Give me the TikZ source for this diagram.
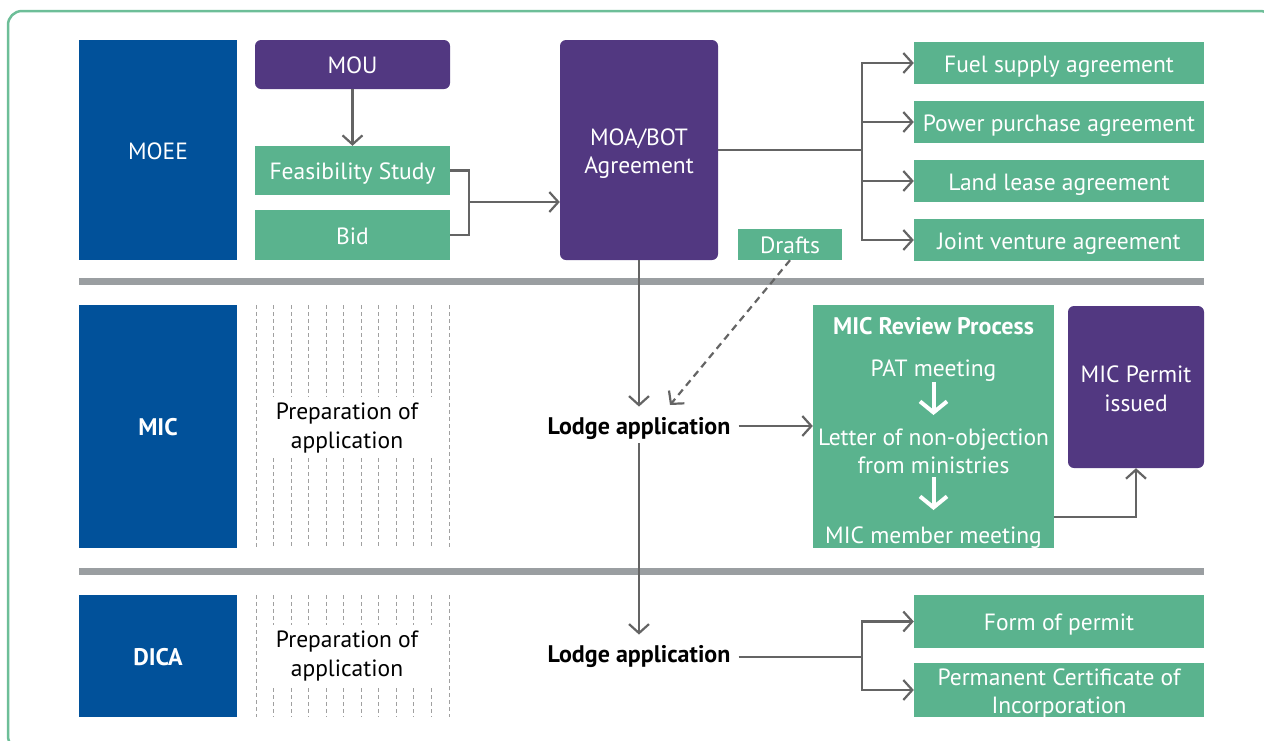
\documentclass[tikz,border=0pt]{standalone}
\usepackage{fontspec}
\setmainfont{PT Sans}
\usetikzlibrary{arrows.meta}
\definecolor{dblue}{HTML}{01519A}
\definecolor{mpurple}{HTML}{523881}
\definecolor{mgreen}{HTML}{5AB38E}
\definecolor{sepgray}{HTML}{9A9EA1}
\definecolor{agray}{HTML}{646464}
\definecolor{fgreen}{HTML}{6DBE98}
\definecolor{dgray}{HTML}{A0A0A0}
\begin{document}
\begin{tikzpicture}[x=1pt,y=-1pt,
  st/.style={execute at begin node={\rule[-6pt]{0pt}{30.5pt}}, execute at end node={\rule[-6pt]{0pt}{6pt}}},
  nost/.style={execute at begin node={}, execute at end node={}},
  txt/.style={font=\fontsize{23.5}{28.5}\selectfont, st},
  bftxt/.style={font=\fontsize{24}{28.5}\selectfont\bfseries, st},
  box/.style={draw=none, inner sep=0pt, text=white, align=center, txt},
  gbox/.style={box, fill=mgreen},
  pbox/.style={box, fill=mpurple, rounded corners=6pt},
  bbox/.style={box, fill=dblue},
  conn/.style={draw=agray, line width=2.2pt, -{Straight Barb[length=9pt,width=20pt]}},
  plain/.style={draw=agray, line width=2.2pt},
  dconn/.style={conn, dash pattern=on 7pt off 5pt},
  warrow/.style={draw=white, line width=4pt, -{Straight Barb[length=11pt,width=27pt]}},
  sep/.style={draw=sepgray, line width=7pt},
  vdash/.style={draw=dgray, line width=1pt, dash pattern=on 4pt off 3pt},
  btxt/.style={bftxt, inner xsep=8pt, inner ysep=3pt},
  wtxt/.style={text=white, txt, inner sep=0pt, align=center},
  mltxt/.style={txt, nost, inner sep=0pt, align=center}
]
\useasboundingbox (0,0) rectangle (1264,740);
\begin{scope}
\clip (0,0) rectangle (1264,740);
\draw[fgreen, line width=2.5pt, rounded corners=14pt] (8,11) rectangle (1274,750);
\end{scope}

% separators
\draw[sep] (79,281) -- (1204,281);
\draw[sep] (79,571) -- (1204,571);

% row labels
\node[bbox, minimum width=158pt, minimum height=220pt] (moee) at (158,150) {MOEE};
\node[bbox, minimum width=158pt, minimum height=243pt, bftxt] (mic) at (158,426.5) {MIC};
\node[bbox, minimum width=158pt, minimum height=122pt, bftxt] (dica) at (158,656) {DICA};

% dashed preparation areas
\foreach \i in {0,...,11} {
  \pgfmathsetmacro{\xx}{256+\i*17.55}
  \ifnum\i=0
    \draw[vdash] (\xx,305) -- (\xx,548);
    \draw[vdash] (\xx,595) -- (\xx,717);
  \else\ifnum\i=11
    \draw[vdash] (\xx,305) -- (\xx,548);
    \draw[vdash] (\xx,595) -- (\xx,717);
  \else
    \draw[vdash] (\xx,305) -- (\xx,397);
    \draw[vdash] (\xx,458) -- (\xx,548);
    \draw[vdash] (\xx,595) -- (\xx,625);
    \draw[vdash] (\xx,688) -- (\xx,717);
  \fi\fi
}
\node[mltxt] (prep1) at (347,428.5) {Preparation of\\application};
\node[mltxt] (prep2) at (347,656.5) {Preparation of\\application};

% MOEE row
\node[pbox, minimum width=195pt, minimum height=49pt] (mou) at (352.5,64.5) {MOU};
\node[gbox, minimum width=195pt, minimum height=49pt] (fs) at (352.5,170.5) {Feasibility Study};
\node[gbox, minimum width=195pt, minimum height=50pt] (bid) at (352.5,235) {Bid};
\node[pbox, minimum width=158pt, minimum height=220pt] (moa) at (639,150) {};
\node[mltxt, text=white] (moat) at (639,154) {MOA/BOT\\Agreement};
\node[gbox, minimum width=104pt, minimum height=31pt] (drafts) at (790,244.5) {Drafts};

\node[gbox, minimum width=290pt, minimum height=42pt] (fuel) at (1059,63) {Fuel supply agreement};
\node[gbox, minimum width=290pt, minimum height=42pt] (power) at (1059,122) {Power purchase agreement};
\node[gbox, minimum width=290pt, minimum height=42pt] (land) at (1059,181) {Land lease agreement};
\node[gbox, minimum width=290pt, minimum height=42pt] (joint) at (1059,240) {Joint venture agreement};

\draw[conn] (mou) -- (fs);
\coordinate (j1) at (469,202);
\draw[plain] (fs.east) -| (j1) |- (bid.east);
\draw[conn] (j1) -- (moa.west |- j1);

\coordinate (j2) at (862,150);
\draw[plain] (moa.east) -- (j2);
\draw[conn] (j2) |- (fuel.west);
\draw[conn] (j2) |- (power.west);
\draw[conn] (j2) |- (land.west);
\draw[conn] (j2) |- (joint.west);

% MIC row
\node[btxt] (lodge1) at (639,425) {Lodge application};
\coordinate (dtip) at (670,405);
\draw[conn] (moa.south) -- (lodge1.north);
\draw[dconn] (drafts.south) -- (dtip);

\node[gbox, minimum width=241pt, minimum height=243pt] (rev) at (933.5,426.5) {};
\node[wtxt, bftxt] (revt) at (933.5,325) {MIC Review Process};
\node[wtxt] (pat) at (933.5,367) {PAT meeting};
\node[mltxt, text=white] (letter) at (933.5,454) {Letter of non-objection\\from ministries};
\node[wtxt] (member) at (933.5,534) {MIC member meeting};
\draw[warrow] ([yshift=-15pt]pat.center) -- ([yshift=39pt]letter.center);
\draw[warrow] ([yshift=-23pt]letter.center) -- ([yshift=24pt]member.center);

\node[pbox, minimum width=136pt, minimum height=162pt] (permit) at (1136,387) {};
\node[mltxt, text=white] (permitt) at (1136,391.5) {MIC Permit\\issued};

\draw[conn] ([yshift=-1pt]lodge1.east) -- (rev.west |- 0,426);
\draw[conn] ([yshift=-90.5pt]rev.east) -| (permit.south);

% DICA row
\node[btxt] (lodge2) at (639,653) {Lodge application};
\draw[conn] (lodge1.south) -- (lodge2.north);

\node[gbox, minimum width=290pt, minimum height=53pt] (form) at (1059,621.5) {Form of permit};
\node[gbox, minimum width=290pt, minimum height=54pt] (cert) at (1059,690) {};
\node[mltxt, text=white] (certt) at (1059,694) {Permanent Certificate of\\Incorporation};
\coordinate (j3) at (862,657);
\draw[plain] (lodge2.east |- j3) -- (j3);
\draw[conn] (j3) |- (form.west);
\draw[conn] (j3) |- (cert.west);
\end{tikzpicture}
\end{document}
